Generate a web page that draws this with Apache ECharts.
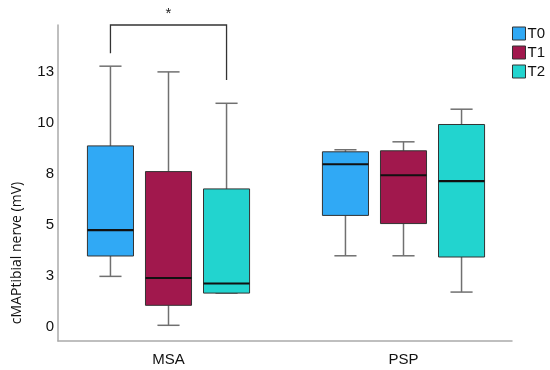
<!DOCTYPE html>
<html><head><meta charset="utf-8">
<script src="https://cdn.jsdelivr.net/npm/echarts@6/dist/echarts.min.js"></script>
<style>html,body{margin:0;padding:0;background:#fff}#c{width:550px;height:370px}</style>
</head><body><div id="c"></div>
<script>
// Data: [min, Q1, median, Q3, max] per category
const categories = ['MSA', 'PSP'];
const seriesNames = ['T0', 'T1', 'T2'];
const t0 = [[2.47, 3.47, 4.74, 8.87, 12.78], [3.48, 5.46, 7.97, 8.58, 8.68]];
const t1 = [[0.07, 1.05, 2.39, 7.61, 12.5], [3.48, 5.06, 7.43, 8.63, 9.07]];
const t2 = [[1.65, 1.65, 2.12, 6.76, 10.96], [1.70, 3.42, 7.14, 9.92, 10.67]];
const yTickValues = [0, 2.5, 5, 7.5, 10, 12.5];
// significance bracket: [categoryIndex, top, leftLegEnd, rightLegEnd]
const bracket = [[0, 14.8, 13.42, 12.1]];
const bracketLabel = '*';

const colors = ['#30A9F5', '#A1184D', '#22D4CF'];
const offsets = [-0.247, 0, 0.247];
const boxFrac = 0.196;
const FONT = 'Liberation Sans, Arial, sans-serif';

function boxRenderer(k) {
  return function (params, api) {
    const cat = api.value(0);
    const band = api.size([1, 0])[0];
    const cx = api.coord([cat, 0])[0] + offsets[k] * band;
    const w = boxFrac * band;
    const y = [1, 2, 3, 4, 5].map(i => api.coord([cat, api.value(i)])[1]);
    const cap = w * 0.48;
    const wl = { stroke: '#707070', lineWidth: 1.5 };
    return {
      type: 'group',
      children: [
        { type: 'line', shape: { x1: cx, y1: y[4], x2: cx, y2: y[3] }, style: wl },
        { type: 'line', shape: { x1: cx, y1: y[0], x2: cx, y2: y[1] }, style: wl },
        { type: 'line', shape: { x1: cx - cap / 2, y1: y[4], x2: cx + cap / 2, y2: y[4] }, style: wl },
        { type: 'line', shape: { x1: cx - cap / 2, y1: y[0], x2: cx + cap / 2, y2: y[0] }, style: wl },
        { type: 'rect', shape: { x: cx - w / 2, y: y[3], width: w, height: y[1] - y[3] },
          style: { fill: colors[k], stroke: '#333', lineWidth: 1 } },
        { type: 'line', shape: { x1: cx - w / 2, y1: y[2], x2: cx + w / 2, y2: y[2] },
          style: { stroke: '#111', lineWidth: 2.2 } }
      ]
    };
  };
}

const series = [t0, t1, t2].map((d, k) => ({
  type: 'custom',
  name: seriesNames[k],
  xAxisIndex: 0, yAxisIndex: 0,
  itemStyle: { color: colors[k] },
  clip: false,
  data: d.map((v, i) => [i].concat(v)),
  encode: { x: 0, y: [1, 2, 3, 4, 5] },
  renderItem: boxRenderer(k)
}));

series.push({
  type: 'custom',
  xAxisIndex: 0, yAxisIndex: 0,
  clip: false,
  silent: true,
  data: bracket,
  encode: { x: 0, y: [1, 2, 3] },
  renderItem: function (params, api) {
    const cat = api.value(0);
    const band = api.size([1, 0])[0];
    const c = api.coord([cat, 0])[0];
    const xl = c + offsets[0] * band, xr = c + offsets[2] * band;
    const yt = api.coord([cat, api.value(1)])[1];
    const yl = api.coord([cat, api.value(2)])[1];
    const yr = api.coord([cat, api.value(3)])[1];
    const st = { stroke: '#333', lineWidth: 1.3, fill: null };
    return {
      type: 'group',
      children: [
        { type: 'polyline', shape: { points: [[xl, yl], [xl, yt], [xr, yt], [xr, yr]] }, style: st },
        { type: 'text', x: (xl + xr) / 2, y: yt - 11,
          style: { text: bracketLabel, fill: '#222', font: '15px ' + FONT, align: 'center', verticalAlign: 'middle' } }
      ]
    };
  }
});

const chart = echarts.init(document.getElementById('c'), null, { renderer: 'canvas' });
chart.setOption({
  animation: false,
  backgroundColor: '#fff',
  textStyle: { fontFamily: FONT },
  grid: [
    { left: 51, right: 29, top: 25, bottom: 29 },
    { left: 58, right: 38, top: 25, bottom: 29 }
  ],
  legend: {
    orient: 'vertical', right: 0, top: 21,
    itemWidth: 13, itemHeight: 13, itemGap: 4,
    icon: 'rect',
    itemStyle: { borderColor: '#333', borderWidth: 1 },
    textStyle: { fontSize: 15, color: '#111', padding: [0, 0, 0, -3] },
    data: seriesNames
  },
  xAxis: [
    { type: 'category', gridIndex: 0, data: categories,
      axisLine: { show: false }, axisTick: { show: false },
      axisLabel: { fontSize: 15, color: '#111', margin: 11 } },
    { type: 'value', gridIndex: 1, min: 0, max: 1,
      axisLine: { show: true, lineStyle: { color: '#aaa', width: 1.5 } },
      axisTick: { show: false }, axisLabel: { show: false }, splitLine: { show: false } }
  ],
  yAxis: [
    { type: 'value', gridIndex: 0, min: -0.7, max: 14.8, offset: -7,
      axisLine: { show: true, lineStyle: { color: '#aaa', width: 1.5 } },
      axisTick: { show: false }, splitLine: { show: false },
      axisLabel: { customValues: yTickValues, fontSize: 15, color: '#111', margin: 4,
        formatter: v => String(Math.round(v)) },
      name: 'cMAPtibial nerve (mV)', nameLocation: 'middle', nameGap: 34, nameRotate: 90,
      nameTextStyle: { fontSize: 14, fontFamily: 'Open Sans, sans-serif', color: '#111', padding: [0, 140, 0, 0] } },
    { type: 'value', gridIndex: 1, min: 0, max: 1, show: false }
  ],
  series: series
});
</script></body></html>
